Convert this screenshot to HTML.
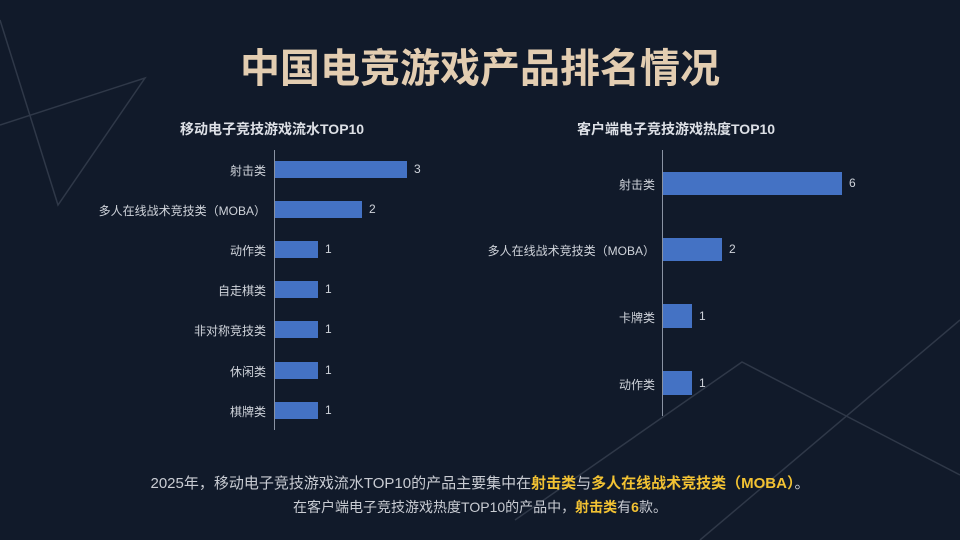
<!DOCTYPE html>
<html><head><meta charset="utf-8"><style>
body{margin:0;width:960px;height:540px;background:#111a2a;overflow:hidden;position:relative;font-family:"Liberation Sans","Noto Sans CJK SC",sans-serif}
.t{position:absolute;white-space:nowrap}
.lab{position:absolute;font-size:12px;color:#cfd3da;text-align:right;white-space:nowrap}
.bar{position:absolute;background:#4472c4}
.v{position:absolute;font-size:12px;color:#cfd3da}
.ax{position:absolute;width:1px;background:#8a93a3}
b.y{color:#f2c233}
</style></head><body>
<svg width="960" height="540" style="position:absolute;left:0;top:0">
<g stroke="#2f3848" stroke-width="1.5" fill="none">
<polyline points="0,125 145,78 58,205 0,20"/>
<polyline points="515,520 742,362 960,475"/>
<polyline points="700,540 960,320"/>
</g></svg>
<div class="t" style="left:0;width:960px;top:36px;text-align:center;font-size:40px;font-weight:bold;color:#e3cdb1;letter-spacing:0">中国电竞游戏产品排名情况</div>
<div class="t" style="left:180px;top:119px;font-size:14px;font-weight:bold;color:#dde0e6">移动电子竞技游戏流水TOP10</div>
<div class="t" style="left:577px;top:119px;font-size:14px;font-weight:bold;color:#dde0e6">客户端电子竞技游戏热度TOP10</div>
<div class="ax" style="left:274px;top:150px;height:280px"></div>
<div class="ax" style="left:662px;top:150px;height:266px"></div>

<div class="lab" style="right:694px;top:162px">射击类</div><div class="bar" style="left:275px;top:161px;width:132px;height:17px"></div><div class="v" style="left:414px;top:162px">3</div>
<div class="lab" style="right:694px;top:202px">多人在线战术竞技类（MOBA）</div><div class="bar" style="left:275px;top:201px;width:87px;height:17px"></div><div class="v" style="left:369px;top:202px">2</div>
<div class="lab" style="right:694px;top:242px">动作类</div><div class="bar" style="left:275px;top:241px;width:43px;height:17px"></div><div class="v" style="left:325px;top:242px">1</div>
<div class="lab" style="right:694px;top:282px">自走棋类</div><div class="bar" style="left:275px;top:281px;width:43px;height:17px"></div><div class="v" style="left:325px;top:282px">1</div>
<div class="lab" style="right:694px;top:322px">非对称竞技类</div><div class="bar" style="left:275px;top:321px;width:43px;height:17px"></div><div class="v" style="left:325px;top:322px">1</div>
<div class="lab" style="right:694px;top:363px">休闲类</div><div class="bar" style="left:275px;top:362px;width:43px;height:17px"></div><div class="v" style="left:325px;top:363px">1</div>
<div class="lab" style="right:694px;top:403px">棋牌类</div><div class="bar" style="left:275px;top:402px;width:43px;height:17px"></div><div class="v" style="left:325px;top:403px">1</div>

<div class="lab" style="right:305px;top:176px">射击类</div><div class="bar" style="left:663px;top:172px;width:179px;height:23px"></div><div class="v" style="left:849px;top:176px">6</div>
<div class="lab" style="right:305px;top:242px">多人在线战术竞技类（MOBA）</div><div class="bar" style="left:663px;top:238px;width:59px;height:23px"></div><div class="v" style="left:729px;top:242px">2</div>
<div class="lab" style="right:305px;top:309px">卡牌类</div><div class="bar" style="left:663px;top:304px;width:29px;height:24px"></div><div class="v" style="left:699px;top:309px">1</div>
<div class="lab" style="right:305px;top:376px">动作类</div><div class="bar" style="left:663px;top:371px;width:29px;height:24px"></div><div class="v" style="left:699px;top:376px">1</div>

<div class="t" style="left:0;width:960px;top:472px;text-align:center;font-size:15px;color:#c9ccd3">2025年，移动电子竞技游戏流水TOP10的产品主要集中在<b class="y">射击类</b>与<b class="y">多人在线战术竞技类（MOBA）</b>。</div>
<div class="t" style="left:0;width:960px;top:497px;text-align:center;font-size:14px;color:#c9ccd3">在客户端电子竞技游戏热度TOP10的产品中，<b class="y">射击类</b>有<b class="y">6</b>款。</div>
</body></html>
